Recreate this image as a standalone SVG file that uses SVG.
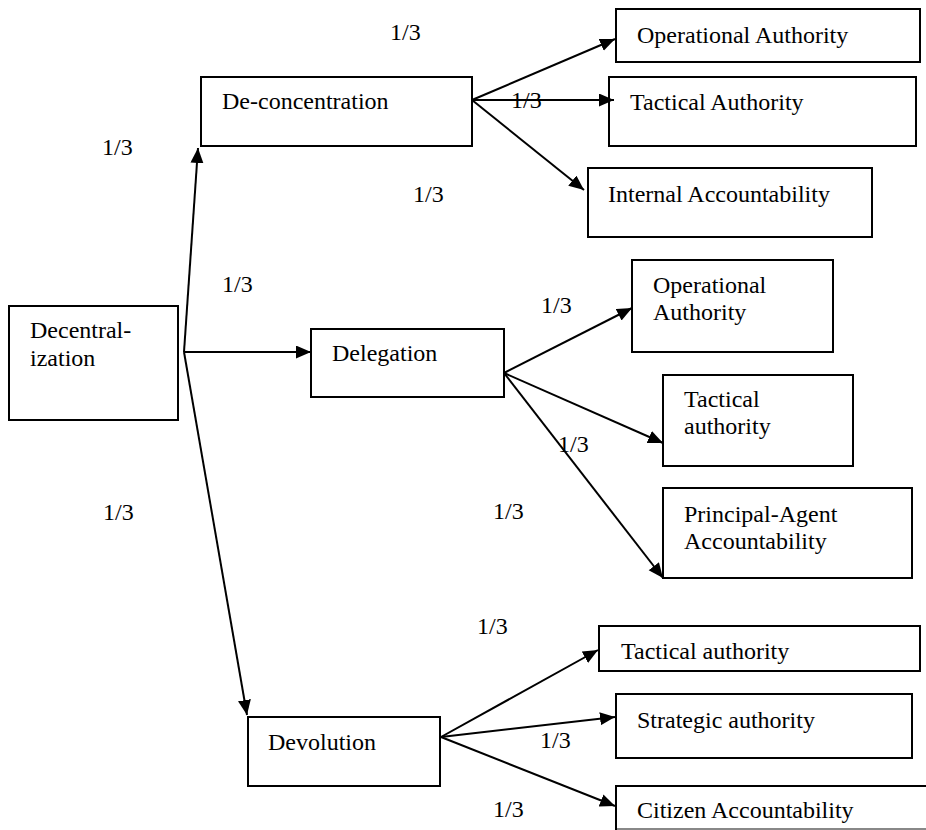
<svg xmlns="http://www.w3.org/2000/svg" width="926" height="830" viewBox="0 0 926 830">
<style>
.box{fill:#fff;stroke:#000;stroke-width:2}
.t{fill:#000;font-family:'Liberation Serif',serif;font-size:24px}
.c{stroke:#000;stroke-width:2;fill:none;marker-end:url(#ah)}
.p{stroke:#000;stroke-width:2;fill:none}
</style>
<defs>
<marker id="ah" markerUnits="userSpaceOnUse" markerWidth="16" markerHeight="14" refX="15" refY="6.5" orient="auto">
<path d="M0,0 L15,6.5 L0,13 z" fill="#000"/>
</marker>
<clipPath id="clipC"><rect x="0" y="0" width="926" height="827"/></clipPath>
</defs>
<rect width="926" height="830" fill="#fff"/>
<g id="n-decentralization"><rect class="box" x="9" y="306" width="169" height="114"/><text class="t" x="30" y="338">Decentral-</text><text class="t" x="30" y="366">ization</text></g>
<g id="n-deconcentration"><rect class="box" x="201" y="77" width="271" height="69"/><text class="t" x="222" y="109">De-concentration</text></g>
<g id="n-delegation"><rect class="box" x="311" y="329" width="193" height="68"/><text class="t" x="332" y="361">Delegation</text></g>
<g id="n-devolution"><rect class="box" x="248" y="717" width="192" height="69"/><text class="t" x="268" y="750">Devolution</text></g>
<g id="n-op1"><rect class="box" x="616" y="9" width="304" height="53"/><text class="t" x="637" y="43">Operational Authority</text></g>
<g id="n-tac1"><rect class="box" x="609" y="77" width="307" height="69"/><text class="t" x="630" y="110">Tactical Authority</text></g>
<g id="n-int"><rect class="box" x="588" y="168" width="284" height="69"/><text class="t" x="608" y="202">Internal Accountability</text></g>
<g id="n-op2"><rect class="box" x="632" y="260" width="201" height="92"/><text class="t" x="653" y="293">Operational</text><text class="t" x="653" y="320">Authority</text></g>
<g id="n-tac2"><rect class="box" x="663" y="375" width="190" height="91"/><text class="t" x="684" y="407">Tactical</text><text class="t" x="684" y="434">authority</text></g>
<g id="n-pa"><rect class="box" x="663" y="488" width="249" height="90"/><text class="t" x="684" y="522">Principal-Agent</text><text class="t" x="684" y="549">Accountability</text></g>
<g id="n-tac3"><rect class="box" x="599" y="626" width="321" height="45"/><text class="t" x="621" y="659">Tactical authority</text></g>
<g id="n-strat"><rect class="box" x="616" y="694" width="296" height="64"/><text class="t" x="637" y="728">Strategic authority</text></g>
<g id="n-cit"><path class="p" d="M926,786 H616 V830"/><line x1="617" y1="829" x2="926" y2="829" stroke="#888" stroke-width="2"/><text class="t" x="637" y="818" clip-path="url(#clipC)">Citizen Accountability</text></g>
<g id="connectors">
<path class="c" d="M184,352 L198,148"/>
<path class="c" d="M184,352 L311,352"/>
<path class="c" d="M184,352 L247,715"/>
<path class="c" d="M472,100 L615,39"/>
<path class="c" d="M472,100 L614,100"/>
<path class="c" d="M472,100 L584,190"/>
<path class="c" d="M504,373 L632,308"/>
<path class="c" d="M504,373 L663,443"/>
<path class="c" d="M504,373 L663,578"/>
<path class="c" d="M441,737 L598,650"/>
<path class="c" d="M441,737 L615,717"/>
<path class="c" d="M441,737 L615,806"/>
</g>
<g id="labels">
<text class="t" x="390" y="40">1/3</text>
<text class="t" x="511" y="108">1/3</text>
<text class="t" x="413" y="202">1/3</text>
<text class="t" x="102" y="155">1/3</text>
<text class="t" x="222" y="292">1/3</text>
<text class="t" x="103" y="520">1/3</text>
<text class="t" x="541" y="313">1/3</text>
<text class="t" x="558" y="452">1/3</text>
<text class="t" x="493" y="519">1/3</text>
<text class="t" x="477" y="634">1/3</text>
<text class="t" x="540" y="748">1/3</text>
<text class="t" x="493" y="817">1/3</text>
</g>
</svg>
